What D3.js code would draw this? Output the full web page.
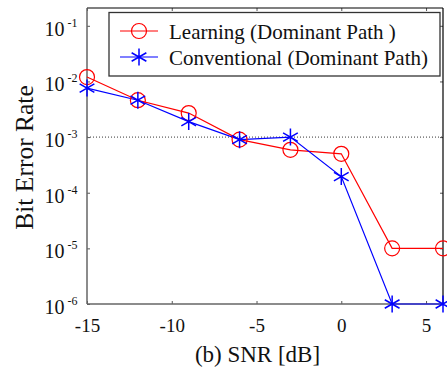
<!DOCTYPE html>
<html>
<head>
<meta charset="utf-8">
<script src="https://cdn.jsdelivr.net/npm/d3@7"></script>
<style>
  html, body { margin: 0; padding: 0; background: #fff; }
  svg { display: block; font-family: "Liberation Serif", "Times New Roman", serif; }
</style>
</head>
<body>
<svg id="chart" width="447" height="371"></svg>
<script>
// SNR sweep points (dB)
const snr = [-15, -12, -9, -6, -3, 0, 3, 6];
// Bit error rate per SNR point
const berLearning = [1.2e-2, 4.6e-3, 2.7e-3, 9.0e-4, 5.9e-4, 5.0e-4, 1e-5, 1e-5];
const berConventional = [7.6e-3, 4.6e-3, 1.9e-3, 9.0e-4, 1.0e-3, 1.95e-4, 1e-6, 1e-6];
const seriesNames = ["Learning (Dominant Path )", "Conventional (Dominant Path)"];
const xTicks = [-15, -10, -5, 0, 5];
const yTickExps = [-6, -5, -4, -3, -2, -1];
const refBer = 1e-3;

const svg = d3.select("#chart");
const m = { left: 87, right: 443, top: 8, bottom: 304 };
const FONT = "Liberation Serif";

const x = d3.scaleLinear().domain([-15, 6]).range([m.left, m.right]);
const y = d3.scaleLog().domain([1e-6, Math.pow(10, -0.68)]).range([m.bottom, m.top]);

// Reference line at BER = 1e-3
svg.append("line")
  .attr("x1", m.left).attr("x2", m.right)
  .attr("y1", y(refBer)).attr("y2", y(refBer))
  .attr("stroke", "#000").attr("stroke-width", 0.8)
  .attr("stroke-dasharray", "1,2");

// Axes (ticks pointing inward)
const xAxis = d3.axisBottom(x).tickValues(xTicks).tickSize(-3).tickPadding(0).tickFormat(d3.format("d"));
const gx = svg.append("g").attr("transform", `translate(0,${m.bottom})`).call(xAxis);
gx.select(".domain").remove();
gx.selectAll(".tick line").attr("stroke", "#555");
gx.selectAll(".tick text")
  .attr("font-size", 19).attr("font-family", FONT).attr("fill", "#111")
  .attr("y", 27.5).attr("dy", null)
  .text(d => d < 0 ? "-" + Math.abs(d) : d);

const xTop = d3.axisTop(x).tickValues(xTicks).tickSize(-3).tickFormat("");
const gxt = svg.append("g").attr("transform", `translate(0,${m.top})`).call(xTop);
gxt.select(".domain").remove();
gxt.selectAll(".tick line").attr("stroke", "#555");

const yAxis = d3.axisLeft(y).tickValues(yTickExps.map(e => Math.pow(10, e))).tickSize(-3).tickFormat("");
const gy = svg.append("g").attr("transform", `translate(${m.left},0)`).call(yAxis);
gy.select(".domain").remove();
gy.selectAll(".tick line").attr("stroke", "#555");

const yRight = d3.axisRight(y).tickValues(yTickExps.map(e => Math.pow(10, e))).tickSize(-3).tickFormat("");
const gyr = svg.append("g").attr("transform", `translate(${m.right},0)`).call(yRight);
gyr.select(".domain").remove();
gyr.selectAll(".tick line").attr("stroke", "#555");

// Y tick labels as 10^n
yTickExps.forEach(e => {
  const ty = y(Math.pow(10, e));
  svg.append("text")
    .attr("x", 64.5).attr("y", ty + 10)
    .attr("text-anchor", "end")
    .attr("font-size", 20).attr("fill", "#111")
    .text("10");
  svg.append("text")
    .attr("x", 67.5).attr("y", ty + 1)
    .attr("font-size", 12).attr("fill", "#111")
    .text(String(e));
});

// Frame
svg.append("line").attr("x1", m.left).attr("x2", m.right).attr("y1", m.top).attr("y2", m.top).attr("stroke", "#000").attr("stroke-width", 1.2);
svg.append("line").attr("x1", m.right).attr("x2", m.right).attr("y1", m.top).attr("y2", m.bottom).attr("stroke", "#000").attr("stroke-width", 1.2);
svg.append("line").attr("x1", m.left).attr("x2", m.left).attr("y1", m.top).attr("y2", m.bottom).attr("stroke", "#666").attr("stroke-width", 1.5);
svg.append("line").attr("x1", m.left).attr("x2", m.right).attr("y1", m.bottom).attr("y2", m.bottom).attr("stroke", "#666").attr("stroke-width", 1.5);

// Series
const line = d3.line().x(d => x(d[0])).y(d => y(d[1]));
const learnPts = snr.map((s, i) => [s, berLearning[i]]);
const convPts = snr.map((s, i) => [s, berConventional[i]]);

svg.append("path").datum(learnPts).attr("d", line)
  .attr("fill", "none").attr("stroke", "#ff0000").attr("stroke-width", 1.2);
svg.append("path").datum(convPts).attr("d", line)
  .attr("fill", "none").attr("stroke", "#0000ff").attr("stroke-width", 1.2);

function asterisk(g, cx, cy, r) {
  const p = d3.path();
  p.moveTo(cx, cy - r); p.lineTo(cx, cy + r);
  const a = r * Math.cos(Math.PI / 6), b = r * Math.sin(Math.PI / 6);
  p.moveTo(cx - a, cy - b); p.lineTo(cx + a, cy + b);
  p.moveTo(cx - a, cy + b); p.lineTo(cx + a, cy - b);
  g.append("path").attr("d", p.toString()).attr("stroke", "#0000ff").attr("stroke-width", 1.5).attr("fill", "none");
}

learnPts.forEach(d => {
  svg.append("circle").attr("cx", x(d[0])).attr("cy", y(d[1])).attr("r", 7.5)
    .attr("fill", "none").attr("stroke", "#ff0000").attr("stroke-width", 1.2);
});
convPts.forEach(d => asterisk(svg, x(d[0]), y(d[1]), 8.5));

// Legend
const lg = svg.append("g");
lg.append("rect").attr("x", 109).attr("y", 12.5).attr("width", 331).attr("height", 63.5)
  .attr("fill", "#fff").attr("stroke", "#333").attr("stroke-width", 1.3);
const rows = [31, 57];
lg.append("line").attr("x1", 120).attr("x2", 158).attr("y1", rows[0]).attr("y2", rows[0]).attr("stroke", "#ff0000").attr("stroke-width", 1.2);
lg.append("circle").attr("cx", 139).attr("cy", rows[0]).attr("r", 7.5).attr("fill", "none").attr("stroke", "#ff0000").attr("stroke-width", 1.2);
lg.append("line").attr("x1", 120).attr("x2", 158).attr("y1", rows[1]).attr("y2", rows[1]).attr("stroke", "#0000ff").attr("stroke-width", 1.2);
asterisk(lg, 139, rows[1], 8.5);
seriesNames.forEach((n, i) => {
  lg.append("text").attr("x", 169).attr("y", rows[i] + 7.5).attr("font-size", 21).attr("fill", "#111").text(n);
});

// Axis titles
svg.append("text").attr("x", 257.5).attr("y", 362).attr("text-anchor", "middle")
  .attr("font-size", 23).attr("fill", "#111").text("(b) SNR [dB]");
svg.append("text").attr("transform", "translate(33,157.5) rotate(-90)").attr("text-anchor", "middle")
  .attr("font-size", 25.5).attr("fill", "#111").text("Bit Error Rate");
</script>
</body>
</html>
